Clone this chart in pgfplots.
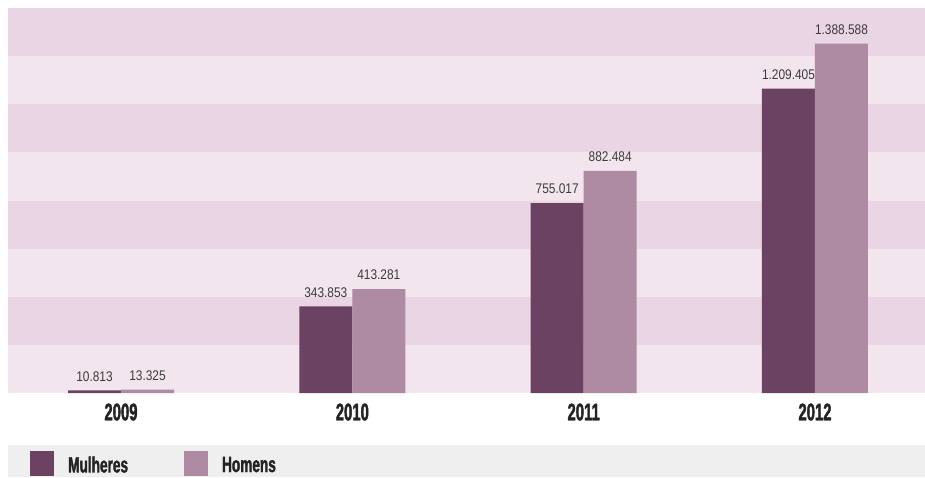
\documentclass[border=0pt]{standalone}
\usepackage{pgfplots}
\pgfplotsset{compat=1.18}
\usepackage{fontspec}
\setmainfont{Liberation Sans}
\newfontfamily\condfont[FakeStretch=0.62,FakeBold=1.6]{Liberation Sans}
\newfontfamily\numfont[FakeStretch=0.85]{Liberation Sans}
\definecolor{mulh}{RGB}{107,66,98}
\definecolor{hom}{RGB}{174,138,163}
\definecolor{stripeA}{RGB}{234,213,229}
\definecolor{stripeB}{RGB}{242,229,238}
\definecolor{legbg}{RGB}{239,239,239}
\definecolor{txt}{RGB}{35,35,35}
\definecolor{numtxt}{RGB}{60,60,60}
\begin{document}
\begin{tikzpicture}
\begin{axis}[name=ax, width=917pt, height=385pt, scale only axis,
  xmin=-0.4885, xmax=3.4756, ymin=0, ymax=1530000,
  axis line style={draw=none}, ytick=\empty,
  xtick={0,1,2,3}, xticklabels={2009,2010,2011,2012},
  major tick length=0pt,
  xticklabel style={font=\condfont\bfseries\fontsize{24}{24}\selectfont, text=txt, yshift=-7pt},
  ybar=0pt, bar width=53pt,
  nodes near coords, point meta=explicit symbolic,
  every node near coord/.append style={font=\numfont\fontsize{14}{14}\selectfont, text=numtxt, anchor=south, yshift=5.5pt},
  clip=false,
  legend columns=2,
  legend style={at={(0,0)}, anchor=north west, xshift=22pt, yshift=-58pt,
    draw=none, fill=none, inner sep=0pt,
    font=\condfont\bfseries\fontsize{22}{22}\selectfont, text=txt,
    /tikz/every even column/.append style={column sep=54pt},
    /tikz/every odd column/.append style={column sep=12pt}},
  legend image code/.code={\path[#1,draw=none] (0pt,-11pt) rectangle (24pt,14pt);},
]
\fill[stripeB] (rel axis cs:0,0) rectangle (rel axis cs:1,1);
\fill[stripeA] (rel axis cs:0,0.125) rectangle (rel axis cs:1,0.25);
\fill[stripeA] (rel axis cs:0,0.375) rectangle (rel axis cs:1,0.5);
\fill[stripeA] (rel axis cs:0,0.625) rectangle (rel axis cs:1,0.75);
\fill[stripeA] (rel axis cs:0,0.875) rectangle (rel axis cs:1,1);
\fill[legbg] ([yshift=-52pt]rel axis cs:0,0) rectangle ([yshift=-84pt]rel axis cs:1,0);
\addplot[fill=mulh, draw=none] coordinates {(0,10813) [10.813] (1,343853) [343.853] (2,755017) [755.017] (3,1209405) [1.209.405]};
\addplot[fill=hom, draw=none] coordinates {(0,13325) [13.325] (1,413281) [413.281] (2,882484) [882.484] (3,1388588) [1.388.588]};
\legend{Mulheres, Homens}
\end{axis}
\pgfresetboundingbox
\useasboundingbox ([xshift=-8pt,yshift=8pt]ax.north west) rectangle ([yshift=-84pt]ax.south east);
\end{tikzpicture}
\end{document}
